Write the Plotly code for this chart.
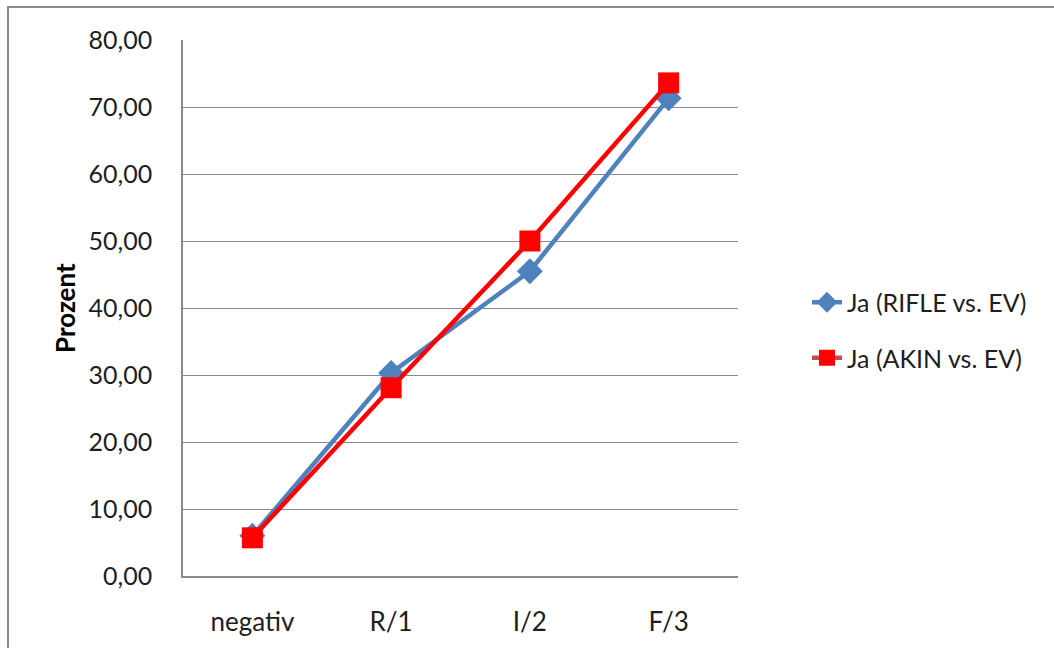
import plotly.graph_objects as go

categories = ["negativ", "R/1", "I/2", "F/3"]
rifle = [6.0, 30.3, 45.5, 71.3]
akin = [5.7, 28.1, 50.0, 73.6]
y_ticks = [0, 10, 20, 30, 40, 50, 60, 70, 80]

FONT = "Lato"
BLUE = "#4F81BD"
RED = "#FF0000"
RED_LEGEND_LINE = "#C0504D"
TEXT = "#1E1E1E"

fig = go.Figure()

fig.add_trace(go.Scatter(
    x=categories, y=rifle, mode="lines+markers",
    name="Ja (RIFLE vs. EV)", legendgroup="rifle",
    line=dict(color=BLUE, width=4.5),
    marker=dict(symbol="diamond", size=20, color=BLUE),
))
fig.add_trace(go.Scatter(
    x=categories, y=akin, mode="lines+markers",
    name="Ja (AKIN vs. EV)", showlegend=False,
    line=dict(color=RED, width=4.5),
    marker=dict(symbol="square", size=21, color=RED),
))
# legend entry for the AKIN series (darker legend line, red marker)
fig.add_trace(go.Scatter(
    x=[None], y=[None], mode="lines+markers",
    name="Ja (AKIN vs. EV)", legendgroup="akin",
    line=dict(color=RED_LEGEND_LINE, width=4.5),
    marker=dict(symbol="square", size=16, color=RED),
))

# outer chart border
fig.add_shape(type="rect", xref="paper", yref="paper",
              x0=(8 - 183) / 555, x1=(1070 - 183) / 555,
              y0=(576 - 660) / 536, y1=(576 - 7) / 536,
              line=dict(color="#8A8A8A", width=2), layer="below")

# rotated y-axis title
fig.add_annotation(
    text="<b>Prozent</b>", xref="paper", yref="paper",
    x=(65 - 183) / 555, y=0.5, textangle=-90, showarrow=False,
    xanchor="center", yanchor="middle",
    font=dict(family=FONT, size=26, color="#000000"),
)

fig.update_layout(
    width=1054, height=648,
    margin=dict(l=183, r=316, t=40, b=72),
    paper_bgcolor="white", plot_bgcolor="white",
    separators=",.",
    font=dict(family=FONT, size=25, color=TEXT),
    xaxis=dict(
        type="category", range=[-0.5, 3.5],
        showgrid=False, showline=True, linecolor="#8A8A8A", linewidth=1.5,
        ticks="", ticklabelstandoff=22,
        tickfont=dict(family=FONT, size=26, color=TEXT),
        zeroline=False, fixedrange=True,
    ),
    yaxis=dict(
        range=[0, 80], tickvals=y_ticks, tickformat=".2f",
        showgrid=True, gridcolor="#8A8A8A", gridwidth=1,
        showline=True, linecolor="#8A8A8A", linewidth=1.5,
        ticks="", ticklabelstandoff=24,
        tickfont=dict(family=FONT, size=25, color=TEXT),
        zeroline=False,
    ),
    legend=dict(
        x=(807 - 183) / 555, y=(576 - 330) / 536, xanchor="left", yanchor="middle",
        font=dict(family=FONT, size=25, color=TEXT),
        itemsizing="trace", traceorder="grouped", tracegroupgap=20,
        bgcolor="rgba(0,0,0,0)",
    ),
    showlegend=True,
)

fig.write_html("out.html")
